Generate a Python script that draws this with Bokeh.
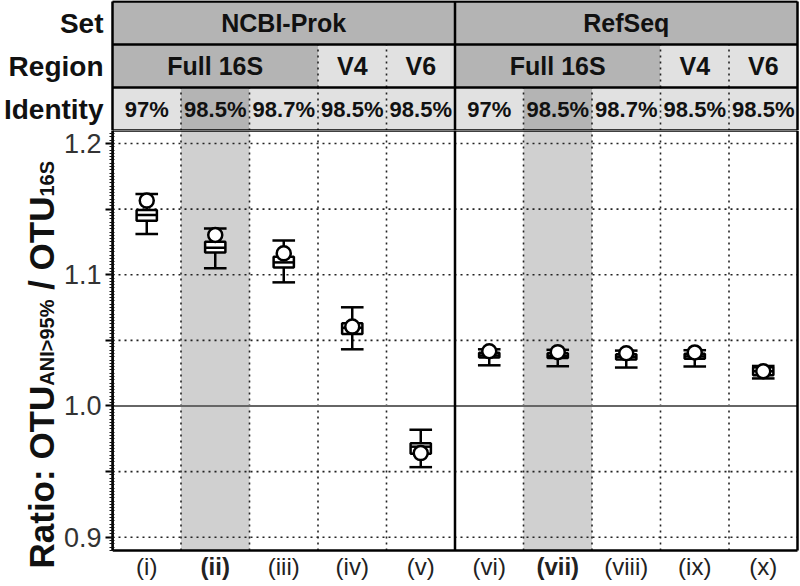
import numpy as np
from bokeh.plotting import figure
from bokeh.layouts import column, row
from bokeh.models import Range1d, LinearAxis, FixedTicker, CustomJSTickFormatter
from bokeh.core.properties import value
from bokeh.embed import file_html
from bokeh.resources import INLINE

# ---------------- data ----------------
sets = ["NCBI-Prok", "RefSeq"]
regions = ["Full 16S", "V4", "V6"]
region_span = [3, 1, 1]
identities = ["97%", "98.5%", "98.7%", "98.5%", "98.5%",
              "97%", "98.5%", "98.7%", "98.5%", "98.5%"]
cases = ["(i)", "(ii)", "(iii)", "(iv)", "(v)",
         "(vi)", "(vii)", "(viii)", "(ix)", "(x)"]
highlight = [False, True, False, False, False,
             False, True, False, False, False]
whisk_hi = [1.1615, 1.1353, 1.1260, 1.0752, 0.9819, 1.0432, 1.0428, 1.0422, 1.0425, 1.0305]
q3       = [1.1493, 1.1252, 1.1138, 1.0630, 0.9717, 1.0405, 1.0402, 1.0395, 1.0398, 1.0295]
median   = [1.1455, 1.1205, 1.1094, 1.0595, 0.9690, 1.0385, 1.0382, 1.0375, 1.0378, 1.0265]
q1       = [1.1412, 1.1170, 1.1056, 1.0549, 0.9636, 1.0370, 1.0365, 1.0355, 1.0360, 1.0235]
whisk_lo = [1.1310, 1.1049, 1.0942, 1.0432, 0.9534, 1.0310, 1.0303, 1.0293, 1.0301, 1.0210]
mean     = [1.1565, 1.1303, 1.1163, 1.0605, 0.9641, 1.0417, 1.0410, 1.0402, 1.0408, 1.0265]
y_ticks = [0.9, 0.95, 1.0, 1.05, 1.1, 1.15, 1.2]
row_names = ["Set", "Region", "Identity"]

# ---------------- layout constants ----------------
W, H = 800, 586
HDR_H = 130            # header figure height
W1 = 60                # width of y-title figure
BL = 112               # frame left offset from page left
N = len(cases)
FW = 685               # data frame width
XPX = FW / N
EXTRA_R = W - BL - FW
PH = 420               # px of the data area
LAB_H = H - HDR_H - PH # strip for category labels
Y_LO, Y_TOP = 0.8899, 1.2099
PX = PH / (Y_TOP - Y_LO)

FONT = "Liberation Sans"
DARK = "#b4b4b4"
LIGHT = "#e1e1e1"
COLGRAY = "#d0d0d0"
TXT = "#111111"
DOT = dict(line_color="#222222", line_width=1.6, line_dash="2 4")
xs = np.arange(N) + 0.5
n_per_set = N // len(sets)
set_left = [i * n_per_set for i in range(len(sets))]
set_right = [l + n_per_set for l in set_left]

def base_fig(width, height, xr, yr, **kw):
    f = figure(width=width, height=height, x_range=xr, y_range=yr,
               output_backend="svg", toolbar_location=None,
               x_axis_type=None, y_axis_type=None, **kw)
    f.outline_line_color = None
    f.background_fill_color = "white"
    f.border_fill_color = "white"
    return f

# ================= header figure =================
ROWPX = (HDR_H - 1) / 3
hdr = base_fig(W, HDR_H, Range1d(-BL / XPX, N + EXTRA_R / XPX),
               Range1d(0, 3 + 1 / ROWPX),
               min_border_left=0, min_border_right=0, min_border_top=0, min_border_bottom=0)

hdr.quad(left=set_left, right=set_right, bottom=2, top=3, fill_color=DARK, line_color=None)
reg_left, reg_right, reg_text, reg_col = [], [], [], []
for sl in set_left:
    cur = sl
    for r, span in zip(regions, region_span):
        reg_left.append(cur)
        reg_right.append(cur + span)
        reg_text.append(r)
        reg_col.append(DARK if span > 1 else LIGHT)
        cur += span
hdr.quad(left=reg_left, right=reg_right, bottom=1, top=2, fill_color=reg_col, line_color=None)
hdr.quad(left=np.arange(N), right=np.arange(N) + 1, bottom=0, top=1,
         fill_color=[DARK if h else LIGHT for h in highlight], line_color=None)

inner = [i for i in range(1, N) if i % n_per_set != 0]
hdr.segment(x0=inner, x1=inner, y0=[0] * len(inner), y1=[1] * len(inner), **DOT)
reg_inner = [l for l in reg_left if l % n_per_set != 0]
hdr.segment(x0=reg_inner, x1=reg_inner, y0=[1] * len(reg_inner), y1=[2] * len(reg_inner), **DOT)

hdr.segment(x0=[0] * 4, x1=[N] * 4, y0=[0, 1, 2, 3], y1=[0, 1, 2, 3], line_color="black", line_width=2.5)
vx = [0] + set_right
hdr.segment(x0=vx, x1=vx, y0=[0] * len(vx), y1=[3] * len(vx), line_color="black", line_width=2.5)

hdr.text(x=[(a + b) / 2 for a, b in zip(set_left, set_right)], y=[2.5] * len(sets), text=sets,
         text_font=value(FONT), text_font_style="bold", text_font_size="25px",
         text_align="center", text_baseline="middle", text_color=TXT)
hdr.text(x=[(a + b) / 2 for a, b in zip(reg_left, reg_right)], y=[1.5] * len(reg_left), text=reg_text,
         text_font=value(FONT), text_font_style="bold", text_font_size="25px",
         text_align="center", text_baseline="middle", text_color=TXT)
hdr.text(x=xs, y=[0.5] * N, text=identities, text_font=value(FONT), text_font_style="bold",
         text_font_size="22px", text_align="center", text_baseline="middle", text_color=TXT)
hdr.text(x=[-9 / XPX] * 3, y=[2.5, 1.5, 0.5], text=row_names, text_font=value(FONT),
         text_font_style="bold", text_font_size="28px", text_align="right",
         text_baseline="middle", text_color=TXT)

# ================= main plot =================
MH = H - HDR_H
main = base_fig(W - W1, MH, Range1d(0, N + EXTRA_R / XPX), Range1d(Y_LO - LAB_H / PX, Y_TOP),
                min_border_left=BL - W1, min_border_right=0, min_border_top=0, min_border_bottom=0)

hl = [i for i, h in enumerate(highlight) if h]
main.quad(left=hl, right=[i + 1 for i in hl], bottom=Y_LO, top=Y_TOP, fill_color=COLGRAY, line_color=None)

gy = [t for t in y_ticks if abs(t - 1.0) > 1e-9]
main.segment(x0=[0] * len(gy), x1=[N] * len(gy), y0=gy, y1=gy, **DOT)
main.segment(x0=inner, x1=inner, y0=[Y_LO] * len(inner), y1=[Y_TOP] * len(inner), **DOT)
main.segment(x0=[0], x1=[N], y0=[1.0], y1=[1.0], line_color="#666666", line_width=2.2)

main.segment(x0=[0, 0], x1=[N, N], y0=[Y_LO, Y_TOP], y1=[Y_LO, Y_TOP], line_color="black", line_width=2.5)
vx2 = [0] + set_right
main.segment(x0=vx2, x1=vx2, y0=[Y_LO] * len(vx2), y1=[Y_TOP] * len(vx2), line_color="black", line_width=2.5)

BW, CW, LW = 0.148, 0.165, 2.5
main.segment(x0=xs, x1=xs, y0=whisk_lo, y1=q1, line_color="black", line_width=LW)
main.segment(x0=xs, x1=xs, y0=q3, y1=whisk_hi, line_color="black", line_width=LW)
main.segment(x0=xs - CW, x1=xs + CW, y0=whisk_lo, y1=whisk_lo, line_color="black", line_width=LW)
main.segment(x0=xs - CW, x1=xs + CW, y0=whisk_hi, y1=whisk_hi, line_color="black", line_width=LW)
main.quad(left=xs - BW, right=xs + BW, bottom=q1, top=q3, fill_color="white",
          line_color="black", line_width=LW)
main.segment(x0=xs - BW, x1=xs + BW, y0=median, y1=median, line_color="black", line_width=LW)
main.scatter(x=xs, y=mean, size=14, marker="circle", fill_color="white",
             line_color="black", line_width=LW)

main.text(x=xs, y=[Y_LO - 16 / PX] * N, text=cases, text_font=value(FONT), text_font_size="24px",
          text_font_style=["bold" if h else "normal" for h in highlight],
          text_align="center", text_baseline="middle", text_color="#222222")

minor = [round(0.89 + 0.0025 * k, 4) for k in range(int((Y_TOP - 0.89) / 0.0025) + 1)]
yaxis = LinearAxis(ticker=FixedTicker(ticks=y_ticks, minor_ticks=minor),
                   formatter=CustomJSTickFormatter(code=
                       "return Math.abs(tick*10 - Math.round(tick*10)) < 1e-6 ? tick.toFixed(1) : '';"),
                   bounds=(Y_LO, Y_TOP))
yaxis.axis_line_color = "black"
yaxis.axis_line_width = 2.5
yaxis.major_tick_out = 7
yaxis.major_tick_in = 0
yaxis.major_tick_line_width = 2
yaxis.minor_tick_out = 3
yaxis.minor_tick_in = 2
yaxis.minor_tick_line_width = 1.2
yaxis.minor_tick_line_color = "#111111"
yaxis.major_label_standoff = 4
yaxis.major_label_text_font = FONT
yaxis.major_label_text_font_size = "27px"
yaxis.major_label_text_color = "#333333"
main.add_layout(yaxis, "left")

# ================= y title figure =================
ylab = base_fig(W1, MH, Range1d(0, W1), Range1d(0, MH),
                min_border_left=0, min_border_right=0, min_border_top=0, min_border_bottom=0)
BOLDW = {"R": 722, "a": 556, "t": 333, "i": 278, "o": 611, ":": 333, " ": 278, "\u00a0": 278,
         "O": 778, "T": 611, "U": 722, "A": 722, "N": 722, "I": 278, ">": 584, "9": 556,
         "5": 556, "%": 889, "/": 278, "1": 556, "6": 556, "S": 667}

def tw(s, size):
    return sum(BOLDW.get(c, 600) for c in s) * size / 1000.0

BIG, SMALL = 35, 20
pieces = [("Ratio: OTU", BIG, 41), ("ANI>95%", SMALL, 46),
          ("\u00a0/ OTU", BIG, 41), ("16S", SMALL, 46)]
top_page = HDR_H
pos = 568.0  # page y where the title starts (bottom)
for txt, size, bx in pieces:
    ylab.text(x=[bx], y=[MH - (pos - top_page)], text=[txt], angle=np.pi / 2,
              text_font=value(FONT), text_font_size=f"{size}px", text_font_style="bold",
              text_align="left", text_baseline="alphabetic", text_color=TXT)
    pos -= tw(txt, size)

layout = column(hdr, row(ylab, main, spacing=0), spacing=0)
open("out.html", "w").write(file_html(layout, INLINE))
